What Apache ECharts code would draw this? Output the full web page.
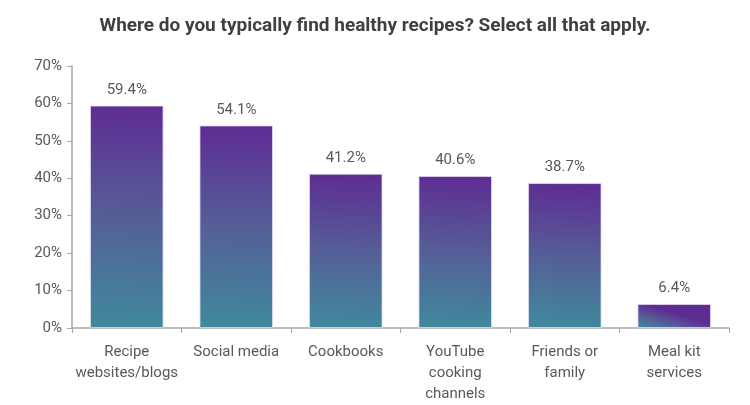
<!DOCTYPE html>
<html>
<head>
<meta charset="utf-8">
<script src="https://cdn.jsdelivr.net/npm/echarts@6/dist/echarts.min.js"></script>
<style>
  html, body { margin: 0; padding: 0; background: #fff; }
  #chart { width: 750px; height: 405px; }
</style>
</head>
<body>
<div id="chart"></div>
<script>
// 数据
var aCategories = ['Recipe\nwebsites/blogs', 'Social media', 'Cookbooks', 'YouTube\ncooking\nchannels', 'Friends or\nfamily', 'Meal kit\nservices'];
var aValues = [59.4, 54.1, 41.2, 40.6, 38.7, 6.4];
var aTicks = [0, 10, 20, 30, 40, 50, 60, 70];

var cFont = 'Roboto, "DejaVu Sans", sans-serif';

var oChart = echarts.init(document.getElementById('chart'));

// 每根柱子自带渐变
var oBarColor = new echarts.graphic.LinearGradient(0, 1, 0.1, 0, [
    { offset: 0, color: '#3f8a9d' },
    { offset: 0.5, color: '#555f97' },
    { offset: 1, color: '#5e2d93' }
]);

var oOption = {
    backgroundColor: '#fff',
    title: {
        text: 'Where do you typically find healthy recipes? Select all that apply.',
        left: 'center',
        top: 12,
        textStyle: { fontFamily: cFont, fontSize: 19, fontWeight: 'bold', color: '#404040' }
    },
    grid: { left: 72, right: 21, top: 66, bottom: 77 },
    xAxis: {
        type: 'category',
        data: aCategories,
        axisLine: { lineStyle: { color: '#a6a6a6', width: 1.5 } },
        axisTick: { show: true, length: 5, alignWithLabel: false, lineStyle: { color: '#a6a6a6' } },
        axisLabel: {
            fontFamily: cFont, fontSize: 15, color: '#595959',
            lineHeight: 21, margin: 14, interval: 0
        }
    },
    yAxis: {
        type: 'value',
        min: aTicks[0],
        max: aTicks[aTicks.length - 1],
        interval: 10,
        axisLine: { show: true, lineStyle: { color: '#a6a6a6', width: 1.5 } },
        axisTick: { show: true, length: 5, inside: false, lineStyle: { color: '#a6a6a6' } },
        splitLine: { show: false },
        axisLabel: {
            fontFamily: cFont, fontSize: 15, color: '#595959', margin: 10,
            formatter: '{value}%'
        }
    },
    series: [{
        type: 'bar',
        data: aValues,
        barWidth: '67%',
        itemStyle: { color: oBarColor, borderColor: '#e4def0', borderWidth: 0.8 },
        label: {
            show: true,
            position: 'top',
            distance: 8,
            fontFamily: cFont, fontSize: 15, color: '#595959',
            formatter: function (p) { return p.value.toFixed(1) + '%'; }
        }
    }]
};
oChart.setOption(oOption);
</script>
</body>
</html>
